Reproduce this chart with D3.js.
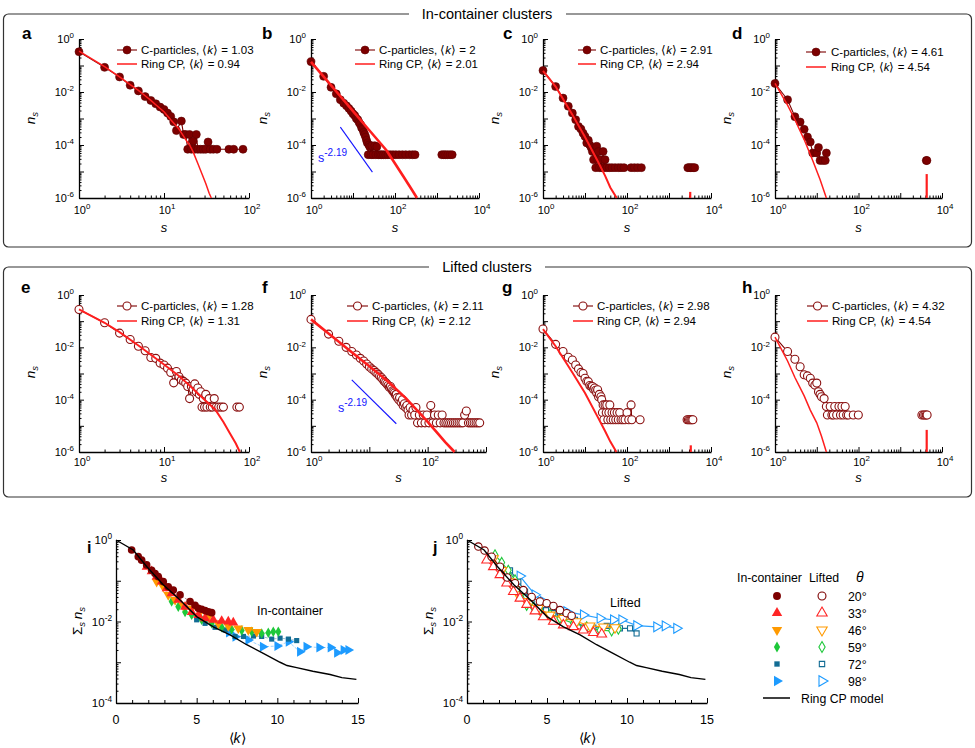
<!DOCTYPE html>
<html>
<head>
<meta charset="utf-8">
<script src="https://cdn.jsdelivr.net/npm/d3@7"></script>
<style>
  body { margin: 0; background: #fff; }
  svg { font-family: "Liberation Sans", Arial, Helvetica, sans-serif; }
</style>
</head>
<body>
<svg id="fig" width="975" height="748"></svg>
<script>
// ---------- cluster size distributions n_s, pairs [s, n_s] ----------
// in-container
const cA = [[1,0.33],[2,0.085],[3,0.037],[4,0.018],[5,0.011],[6,0.0067],[7,0.0048],[8,0.0036],[9,0.0027],[10,0.0022],[11,0.0016],[12,0.0012],[13,0.00075],[14,0.00035],[16,0.0008],[17,0.00025],[18,0.00025],[19,6.9e-5],[20,0.00025],[21,6.9e-5],[22,0.00014],[23,6.9e-5],[24,0.00025],[25,6.9e-5],[27,6.9e-5],[29,6.9e-5],[31,6.9e-5],[33,0.00013],[35,6.9e-5],[38,6.9e-5],[42,6.9e-5],[58,6.9e-5],[66,6.9e-5],[85,6.9e-5]];
const ringA = [[1,0.35],[2,0.09],[3,0.037],[4,0.019],[5,0.0115],[6,0.0072],[7,0.0048],[8,0.0033],[10,0.0018],[12,0.0009],[15,0.0004],[18,0.00016],[20,0.0001],[22,5.5e-5],[25,2e-5],[28,8e-6],[31,3.5e-6],[34,1.5e-6],[36,1e-6]];

const cB = [[1,0.14],[2,0.039],[3,0.015],[4,0.0085],[5,0.0051],[6,0.0038],[7,0.003],[8,0.0024],[9,0.0019],[10,0.0015],[11,0.0013],[12,0.001],[13,0.0009],[14,0.0007],[15,0.0006],[16,0.00045],[17,0.0004],[18,0.0003],[19,0.00025],[20,0.0002],[21,0.00015],[22,0.00012],[23,4.3e-5],[24,0.0001],[25,8.6e-5],[27,4.3e-5],[28,9.4e-5],[30,4.3e-5],[33,9.4e-5],[35,4.3e-5],[37,8.6e-5],[40,4.3e-5],[44,4.3e-5],[48,4.3e-5],[53,4.3e-5],[60,4.3e-5],[68,4.3e-5],[78,4.3e-5],[90,4.3e-5],[105,4.3e-5],[125,4.3e-5],[150,4.3e-5],[180,4.3e-5],[220,4.3e-5],[260,4.3e-5],[300,4.3e-5]];
const cBGiant = [[1300,4.3e-5],[1450,4.3e-5],[1600,4.3e-5],[1800,4.3e-5],[2050,4.3e-5],[2300,4.3e-5]];
const ringB = [[1,0.138],[2,0.038],[5,0.0069],[10,0.0019],[20,0.00052],[40,0.000145],[63,6.2e-5],[100,2e-5],[160,6.3e-6],[250,2.1e-6],[334,1e-6]];
const guideB = [[5,4.7e-4],[29,9.5e-6]];

const cC = [[1,0.065],[2,0.016],[3,0.0059],[4,0.0029],[5,0.0016],[6,0.0009],[7,0.0005],[8,0.0004],[9,0.00028],[10,0.00021],[11,0.00012],[12,0.00015],[13,0.0001],[14,8e-5],[15,5.7e-5],[16,2.8e-5],[17,5.7e-5],[18,1.4e-5],[19,9e-5],[20,2.8e-5],[21,5.7e-5],[22,1.4e-5],[23,2.8e-5],[25,1.4e-5],[27,5.7e-5],[28,1.4e-5],[30,2.8e-5],[33,1.4e-5],[38,1.4e-5],[44,1.4e-5],[52,1.4e-5],[62,1.4e-5],[72,1.4e-5],[85,1.4e-5]];
const cCFar = [[125,1.4e-5],[150,1.4e-5],[180,1.4e-5],[220,1.4e-5]];
const cCGiant = [[2800,1.4e-5],[3000,1.4e-5],[3250,1.4e-5],[3500,1.4e-5],[3800,1.4e-5],[4100,1.4e-5]];
const ringC = [[1,0.063],[2,0.016],[5,0.0014],[10,0.0002],[20,2.5e-5],[30,7e-6],[40,2.5e-6],[57,1e-6]];
const peakC = [3200, 1.7e-6];

const cD = [[1,0.021],[2,0.0051],[3,0.00117],[4,0.00074],[5,0.00039],[6,0.0002],[7,0.00013],[8,5e-5],[10,5e-5],[11,8e-5],[12,2.6e-5],[14,2.6e-5],[16,2.6e-5],[17,5e-5]];
const cDGiant = [[4200,2.6e-5],[4350,2.6e-5]];
const ringD = [[1,0.021],[2,0.0032],[3,0.0009],[5,0.00016],[8,2.6e-5],[12,5e-6],[17,1e-6]];
const peakD = [4300, 8e-6];

// lifted
const cE = [[1,0.28],[2,0.087],[3,0.035],[4,0.02],[5,0.011],[6,0.0074],[7,0.0041],[8,0.0038],[9,0.0025],[10,0.0021],[11,0.0016],[12,0.0011],[13,0.00044],[14,0.0012],[15,0.00076],[16,0.00056],[17,0.0005],[18,0.00043],[19,0.00032],[20,0.00011],[21,0.00032],[22,0.00025],[23,0.0004],[24,0.0002],[25,0.00028],[26,0.00016],[27,0.0002],[28,5.2e-5],[29,0.00011],[30,5.2e-5],[31,0.00016],[32,5.2e-5],[34,0.00011],[35,5.2e-5],[37,5.2e-5],[39,0.00011],[41,5.2e-5],[44,5.2e-5],[47,5.2e-5],[50,5.2e-5]];
const cEFar = [[72,5.2e-5],[77,5.2e-5]];
const ringE = [[1,0.28],[2,0.087],[3,0.038],[5,0.0117],[10,0.0022],[15,0.0008],[20,0.00035],[30,0.0001],[40,4.2e-5],[50,1.4e-5],[60,5e-6],[70,2.1e-6],[78,1e-6]];

const cF = [[1,0.117],[2,0.032],[3,0.017],[4,0.01],[5,0.0069],[6,0.0051],[7,0.0038],[8,0.003],[9,0.0023],[10,0.0018],[11,0.0015],[12,0.0013],[13,0.0011],[14,0.00095],[15,0.0008],[16,0.0007],[17,0.0006],[18,0.0005],[19,0.00045],[20,0.0004],[21,0.00035],[22,0.0003],[23,0.00032],[24,0.00026],[25,0.00022],[26,0.0002],[27,0.00018],[28,0.00015],[29,0.00016],[30,0.00012],[32,0.0001],[33,0.00012],[35,8e-5],[37,0.0001],[38,6e-5],[40,7e-5],[42,5e-5],[44,6e-5],[46,4e-5],[48,2.6e-5],[50,5e-5],[53,2.6e-5],[56,4e-5],[60,2.6e-5],[63,5e-5],[67,1.3e-5],[72,2.6e-5],[78,1.3e-5],[84,2.6e-5],[90,1.3e-5],[97,2.6e-5],[105,1.3e-5],[113,6e-5],[122,1.3e-5],[131,2.6e-5],[141,1.3e-5],[152,2.6e-5],[164,1.3e-5],[177,2.6e-5],[190,1.3e-5],[205,1.3e-5],[221,1.3e-5],[238,1.3e-5],[256,1.3e-5],[276,1.3e-5],[297,1.3e-5],[320,1.3e-5],[345,1.3e-5],[372,1.3e-5],[400,1.3e-5],[430,2.6e-5],[460,3.7e-5],[500,1.3e-5],[540,1.3e-5],[580,1.3e-5],[625,1.3e-5],[675,1.3e-5],[725,1.3e-5],[780,1.3e-5]];
const ringF = [[1,0.117],[2,0.034],[5,0.0065],[10,0.0019],[20,0.00054],[43,0.00011],[95,1.6e-5],[150,5e-6],[200,2.4e-6],[290,1e-6]];
const guideF = [[5,5.7e-4],[29,1.2e-5]];

const cG = [[1,0.05],[2,0.013],[3,0.0069],[4,0.0042],[5,0.0033],[6,0.0021],[7,0.0015],[8,0.0011],[9,0.001],[10,0.00066],[11,0.0005],[12,0.00049],[13,0.00035],[14,0.00032],[15,0.00032],[16,0.00025],[17,0.00028],[18,0.00023],[19,0.00018],[20,0.00024],[21,0.00013],[22,0.00016],[24,0.00013],[25,0.0001],[26,3.2e-5],[27,6.3e-5],[28,1.7e-5],[30,6.3e-5],[32,3.2e-5],[33,6.3e-5],[35,1.7e-5],[37,3.2e-5],[39,6.3e-5],[41,1.7e-5],[44,3.2e-5],[47,1.7e-5],[50,3.2e-5],[54,1.7e-5],[58,3.2e-5],[62,1.7e-5],[67,3.2e-5],[72,1.7e-5],[80,1.7e-5],[90,1.7e-5],[100,3.2e-5],[110,1.7e-5],[125,6.3e-5],[130,1.7e-5]];
const cGFar = [[205,1.7e-5]];
const cGGiant = [[2700,1.7e-5],[2900,1.7e-5],[3100,1.7e-5],[3300,1.7e-5],[3500,1.7e-5],[3700,1.7e-5]];
const ringG = [[1,0.05],[2,0.011],[5,0.0011],[10,0.00018],[20,2.2e-5],[30,6.3e-6],[40,2.5e-6],[56,1e-6]];
const peakG = [3300, 1.8e-6];

const cH = [[1,0.0245],[2,0.0069],[3,0.0035],[4,0.0018],[5,0.00089],[6,0.00081],[7,0.00066],[8,0.00043],[9,0.00036],[10,0.00043],[11,0.0002],[12,0.00016],[13,0.00013],[15,0.00011],[17,5.5e-5],[18,2.6e-5],[21,5.5e-5],[23,2.6e-5],[25,2.6e-5],[27,5.5e-5],[30,2.6e-5],[34,5.5e-5],[37,2.6e-5],[40,5.5e-5],[43,2.6e-5],[48,5.5e-5],[52,2.6e-5],[57,2.6e-5],[75,2.6e-5],[99,2.6e-5]];
const cHGiant = [[3300,2.6e-5],[3600,2.6e-5],[3900,2.6e-5],[4200,2.6e-5],[4400,2.6e-5]];
const ringH = [[1,0.0245],[2,0.003],[3,0.0007],[5,0.00014],[7,4e-5],[10,1.3e-5],[13,4e-6],[17,1e-6]];
const peakH = [4300, 7e-6];

// ---------- total cluster density vs <k>, pairs [k, sum_s n_s] ----------
const in20 = [[0.97,0.57],[1.38,0.39],[1.59,0.32],[1.9,0.245],[2.21,0.18],[2.42,0.15],[2.62,0.126],[2.93,0.095],[3.24,0.071],[3.55,0.059],[3.97,0.045],[4.59,0.031],[4.9,0.025],[5.1,0.021],[5.31,0.02],[5.52,0.0185],[5.73,0.0174],[5.93,0.0165]];
const in33 = [[1.9,0.22],[2.21,0.17],[2.52,0.126],[2.83,0.095],[3.14,0.065],[3.45,0.049],[3.86,0.034],[4.28,0.023],[4.69,0.017],[5.1,0.0144],[5.52,0.012],[6.03,0.011],[6.55,0.0103],[6.96,0.01],[7.27,0.0094]];
const in46 = [[2.52,0.095],[2.93,0.071],[3.24,0.045],[3.66,0.034],[4.17,0.025],[4.69,0.021],[5.21,0.0174],[5.73,0.013],[6.34,0.009],[6.96,0.0078],[7.58,0.0068],[8.2,0.0062],[8.72,0.0056]];
const in59 = [[3.45,0.031],[3.86,0.023],[4.28,0.017],[4.69,0.0145],[5.31,0.011],[5.93,0.009],[6.55,0.0072],[7.17,0.0064],[7.79,0.006],[8.41,0.0056],[9.03,0.0051],[9.44,0.0053],[9.75,0.0056],[10.06,0.0056]];
const in72 = [[5.0,0.011],[5.52,0.009],[6.14,0.0072],[6.76,0.0062],[7.38,0.0043],[7.9,0.0043],[8.52,0.0044],[9.03,0.0043],[9.65,0.0037],[10.17,0.0039],[10.69,0.0037],[11.2,0.0034]];
const in98 = [[7.0,0.0054],[7.4,0.0042],[8.2,0.0035],[9.1,0.0024],[10.0,0.0025],[10.7,0.0032],[11.4,0.0018],[11.8,0.0024],[12.6,0.0023],[13.3,0.0023],[13.7,0.0017],[14.1,0.002],[14.4,0.002]];

const lift20 = [[0.71,0.69],[1.1,0.55],[1.54,0.39],[2.06,0.22],[2.52,0.12],[3.0,0.087],[3.52,0.059],[4.04,0.04],[4.56,0.031],[4.98,0.028],[5.4,0.024],[5.81,0.019],[6.23,0.016],[6.54,0.0138]];
const lift33 = [[1.23,0.32],[1.65,0.22],[2.06,0.14],[2.48,0.087],[2.9,0.054],[3.31,0.037],[3.73,0.026],[4.25,0.018],[4.77,0.013],[5.4,0.01],[6.02,0.0082],[6.65,0.0074],[7.27,0.0061],[7.9,0.0053],[8.42,0.0049]];
const lift46 = [[1.65,0.35],[2.17,0.18],[2.69,0.095],[3.21,0.045],[3.73,0.031],[4.46,0.021],[5.19,0.0145],[6.02,0.012],[6.85,0.01],[7.69,0.0078],[8.52,0.0074],[9.25,0.0071]];
const lift59 = [[1.75,0.43],[2.17,0.28],[2.58,0.18],[3.0,0.105],[3.42,0.054],[3.73,0.025],[4.15,0.022],[4.56,0.019],[5.19,0.015],[5.81,0.012],[6.65,0.009],[7.48,0.0074],[8.31,0.0061],[9.04,0.0059],[9.46,0.0065]];
const lift72 = [[2.69,0.18],[3.21,0.095],[3.63,0.054],[4.04,0.029],[4.56,0.024],[4.94,0.019],[5.4,0.016],[5.81,0.0145],[6.23,0.013],[6.75,0.011],[7.27,0.0071],[7.9,0.0071],[8.73,0.0078],[9.56,0.0068],[10.19,0.0068],[10.6,0.0051]];
const lift98 = [[3.31,0.13],[4.25,0.045],[4.77,0.031],[5.4,0.022],[6.23,0.0174],[7.27,0.0145],[8.31,0.012],[9.15,0.011],[9.67,0.011],[10.6,0.0079],[11.85,0.0074],[12.38,0.0078],[13.1,0.0068]];

const ringModel = [[0,1],[1.07,0.569],[1.9,0.224],[2.93,0.0794],[3.97,0.0339],[5.0,0.0132],[6.03,0.0074],[7.07,0.00468],[8.1,0.00269],[9.13,0.00166],[10.17,0.001],[10.6,0.00083],[11.2,0.00074],[12.2,0.0006],[13.27,0.0005],[14.0,0.00042],[14.9,0.00038]];

const thetaLabels = ['20°', '33°', '46°', '59°', '72°', '98°'];
const inSeries = [in20, in33, in46, in59, in72, in98];
const liftSeries = [lift20, lift33, lift46, lift59, lift72, lift98];

// ---------- styles ----------
const darkRed = '#7d0000';
const ringRed = '#ff1e1e';
const thetaColors = ['#7d0000', '#ff2525', '#ff9a00', '#1ec83a', '#126c94', '#1d9bff'];
const shapes = [
  {t: d3.symbolCircle, s: 38, rot: 0},
  {t: d3.symbolTriangle, s: 36, rot: 0},
  {t: d3.symbolTriangle, s: 36, rot: 180},
  {t: d3.symbolDiamond, s: 26, rot: 0},
  {t: d3.symbolSquare, s: 22, rot: 0},
  {t: d3.symbolTriangle, s: 36, rot: 90}
];

const svg = d3.select('#fig');

function pow10(sel, e, size) {
  sel.append('tspan').text('10');
  sel.append('tspan').attr('dy', -size * 0.42).attr('font-size', size * 0.72).text(e);
}
function kText(sel, before, after) {
  sel.append('tspan').text(before + '\u27E8');
  sel.append('tspan').attr('font-style', 'italic').text('k');
  sel.append('tspan').text('\u27E9' + after);
}

// ---------- boxes ----------
function box(top, bottom, title, gapL, gapR) {
  svg.append('rect').attr('x', 3.5).attr('y', top).attr('width', 968).attr('height', bottom - top)
    .attr('rx', 5).attr('fill', 'none').attr('stroke', '#333').attr('stroke-width', 1.2);
  svg.append('rect').attr('x', gapL).attr('y', top - 3).attr('width', gapR - gapL).attr('height', 6).attr('fill', '#fff');
  svg.append('text').attr('x', 487).attr('y', top + 5).attr('text-anchor', 'middle')
    .attr('font-size', 14.5).text(title);
}
box(14, 247, 'In-container clusters', 409, 566);
box(267, 497, 'Lifted clusters', 429, 545);

// ---------- n_s panels ----------
const rows = [
  {top: 39, bottom: 198, tickDy: 16, sDy: 34, nsY: 118, legY: [50, 64], letterY: 39},
  {top: 295, bottom: 452, tickDy: 14, sDy: 30, nsY: 372, legY: [306, 321], letterY: 293}
];

const panels = [
  {id: 'a', row: 0, left: 79, right: 249, xMax: 1e2, xLab: [0, 1, 2], c: cA, ring: ringA, kC: '1.03', kR: '0.94', filled: true, leg: [117, 137, 141], letterX: 22, ringW: 1.5},
  {id: 'b', row: 0, left: 311, right: 479, xMax: 1e4, xLab: [0, 2, 4], c: cB, giant: cBGiant, ring: ringB, guide: guideB, guideTxt: [318, 162], kC: '2', kR: '2.01', filled: true, leg: [355, 375, 379], letterX: 262, ringW: 2.6},
  {id: 'c', row: 0, left: 543, right: 711, xMax: 1e4, xLab: [0, 2, 4], c: cC, far: cCFar, giant: cCGiant, ring: ringC, peak: peakC, kC: '2.91', kR: '2.94', filled: true, leg: [578, 596, 600], letterX: 503, ringW: 2},
  {id: 'd', row: 0, left: 775, right: 942, xMax: 1e4, xLab: [0, 2, 4], c: cD, giant: cDGiant, ring: ringD, peak: peakD, kC: '4.61', kR: '4.54', filled: true, leg: [806, 826, 831], legY: [52, 67], letterX: 732, ringW: 1.5},
  {id: 'e', row: 1, left: 79, right: 249, xMax: 1e2, xLab: [0, 1, 2], c: cE, far: cEFar, ring: ringE, kC: '1.28', kR: '1.31', filled: false, leg: [117, 137, 141], letterX: 21, ringW: 2},
  {id: 'f', row: 1, left: 311, right: 486, xMax: 1e3, xLab: [0, 2], c: cF, ring: ringF, guide: guideF, guideTxt: [338, 412], kC: '2.11', kR: '2.12', filled: false, leg: [347, 368, 372], letterX: 262, ringW: 2.6},
  {id: 'g', row: 1, left: 543, right: 711, xMax: 1e4, xLab: [0, 2, 4], c: cG, far: cGFar, giant: cGGiant, ring: ringG, peak: peakG, kC: '2.98', kR: '2.94', filled: false, leg: [573, 593, 597], letterX: 502, ringW: 2},
  {id: 'h', row: 1, left: 775, right: 942, xMax: 1e4, xLab: [0, 2, 4], c: cH, giant: cHGiant, ring: ringH, peak: peakH, kC: '4.32', kR: '4.54', filled: false, leg: [807, 828, 832], letterX: 742, ringW: 1.5}
];

const isMajor = v => Math.abs(Math.log10(v) - Math.round(Math.log10(v))) < 1e-6;

function logPanel(p) {
  const r = rows[p.row];
  const x = d3.scaleLog().domain([1, p.xMax]).range([p.left, p.right]);
  const y = d3.scaleLog().domain([1e-6, 1]).range([r.bottom, r.top]);
  const g = svg.append('g');

  const ya = g.append('g').attr('transform', `translate(${p.left},0)`)
    .call(d3.axisLeft(y).tickValues(y.ticks()).tickFormat('').tickSizeOuter(0));
  ya.selectAll('.tick line').attr('x2', d => isMajor(d) ? 5 : 2.5);
  const xa = g.append('g').attr('transform', `translate(0,${r.bottom})`)
    .call(d3.axisBottom(x).tickValues(x.ticks()).tickFormat('').tickSizeOuter(0));
  xa.selectAll('.tick line').attr('y2', d => isMajor(d) ? -5 : -2.5);
  g.selectAll('.domain').attr('stroke-width', 1.3);

  [0, -2, -4, -6].forEach(e => {
    const t = g.append('text').attr('x', p.left - 5).attr('y', y(Math.pow(10, e)) + 4)
      .attr('text-anchor', 'end').attr('font-size', 11);
    pow10(t, e, 11);
  });
  p.xLab.forEach(e => {
    const t = g.append('text').attr('x', x(Math.pow(10, e)) + 3).attr('y', r.bottom + r.tickDy)
      .attr('text-anchor', 'middle').attr('font-size', 11);
    pow10(t, e, 11);
  });
  g.append('text').attr('x', (p.left + p.right) / 2).attr('y', r.bottom + r.sDy)
    .attr('text-anchor', 'middle').attr('font-size', 13).attr('font-style', 'italic').text('s');
  const ns = g.append('text').attr('transform', `translate(${p.left - 44},${r.nsY}) rotate(-90)`)
    .attr('text-anchor', 'middle').attr('font-size', 13.5).attr('font-style', 'italic');
  ns.append('tspan').text('n');
  ns.append('tspan').attr('dy', 3).attr('font-size', 9.5).text('s');
  g.append('text').attr('x', p.letterX).attr('y', r.letterY).attr('font-size', 17)
    .attr('font-weight', 'bold').text(p.id);

  // power-law guide
  if (p.guide) {
    g.append('line').attr('x1', x(p.guide[0][0])).attr('y1', y(p.guide[0][1]))
      .attr('x2', x(p.guide[1][0])).attr('y2', y(p.guide[1][1]))
      .attr('stroke', '#1414ff').attr('stroke-width', 1.1);
    const gt = g.append('text').attr('x', p.guideTxt[0]).attr('y', p.guideTxt[1])
      .attr('fill', '#1414ff').attr('font-size', 12.5);
    gt.append('tspan').text('s');
    gt.append('tspan').attr('dy', -6).attr('font-size', 10).text('-2.19');
  }

  const line = d3.line().x(d => x(d[0])).y(d => y(d[1]));
  g.append('path').datum(p.c).attr('d', line).attr('fill', 'none')
    .attr('stroke', darkRed).attr('stroke-width', 1.1);
  if (p.giant) {
    g.append('path').datum(p.giant).attr('d', line).attr('fill', 'none')
      .attr('stroke', darkRed).attr('stroke-width', 1.1);
  }
  const pts = p.c.concat(p.far || [], p.giant || []);
  g.selectAll('circle.pt').data(pts).join('circle').attr('class', 'pt')
    .attr('cx', d => x(d[0])).attr('cy', d => y(d[1])).attr('r', 4)
    .attr('fill', p.filled ? darkRed : '#fff')
    .attr('stroke', p.filled ? '#5e0000' : '#8a1010')
    .attr('stroke-width', p.filled ? 0.6 : 1.1);

  g.append('path').datum(p.ring).attr('d', line).attr('fill', 'none')
    .attr('stroke', ringRed).attr('stroke-width', p.ringW);
  if (p.peak) {
    g.append('line').attr('x1', x(p.peak[0])).attr('x2', x(p.peak[0]))
      .attr('y1', y(1e-6)).attr('y2', y(p.peak[1]))
      .attr('stroke', ringRed).attr('stroke-width', 2.2);
  }

  // legend
  const ly = p.legY || r.legY;
  g.append('line').attr('x1', p.leg[0]).attr('x2', p.leg[1]).attr('y1', ly[0]).attr('y2', ly[0])
    .attr('stroke', darkRed).attr('stroke-width', 1.1);
  g.append('circle').attr('cx', (p.leg[0] + p.leg[1]) / 2).attr('cy', ly[0]).attr('r', 4)
    .attr('fill', p.filled ? darkRed : '#fff').attr('stroke', p.filled ? '#5e0000' : '#8a1010')
    .attr('stroke-width', p.filled ? 0.6 : 1.1);
  kText(g.append('text').attr('x', p.leg[2]).attr('y', ly[0] + 4).attr('font-size', 11.5),
    'C-particles,  ', ' = ' + p.kC);
  g.append('line').attr('x1', p.leg[0]).attr('x2', p.leg[1]).attr('y1', ly[1]).attr('y2', ly[1])
    .attr('stroke', ringRed).attr('stroke-width', 1.5);
  kText(g.append('text').attr('x', p.leg[2]).attr('y', ly[1] + 4).attr('font-size', 11.5),
    'Ring CP,  ', ' = ' + p.kR);
}
panels.forEach(logPanel);

// ---------- sum n_s vs <k> panels ----------
function symbolPath(i, scale) {
  return d3.symbol().type(shapes[i].t).size(shapes[i].s * (scale || 1))();
}

function kPanel(p) {
  const x = d3.scaleLinear().domain([0, 15]).range([p.left, p.right]);
  const y = d3.scaleLog().domain([1e-4, 1]).range([703, 540]);
  const g = svg.append('g');

  const ya = g.append('g').attr('transform', `translate(${p.left},0)`)
    .call(d3.axisLeft(y).tickValues(y.ticks()).tickFormat('').tickSizeOuter(0));
  ya.selectAll('.tick line').attr('x2', d => isMajor(d) ? 5 : 2.5);
  const xa = g.append('g').attr('transform', 'translate(0,703)')
    .call(d3.axisBottom(x).tickValues(d3.range(0, 16)).tickFormat('').tickSizeOuter(0));
  xa.selectAll('.tick line').attr('y2', d => d % 5 === 0 ? -5 : -3);
  g.selectAll('.domain').attr('stroke-width', 1.3);

  [0, -2, -4].forEach(e => {
    const t = g.append('text').attr('x', p.left - 4).attr('y', y(Math.pow(10, e)) + 4)
      .attr('text-anchor', 'end').attr('font-size', 11.5);
    pow10(t, e, 11.5);
  });
  [0, 5, 10, 15].forEach(v => {
    g.append('text').attr('x', x(v)).attr('y', 724).attr('text-anchor', 'middle')
      .attr('font-size', 12.5).text(v);
  });
  kText(g.append('text').attr('x', (p.left + p.right) / 2).attr('y', 743)
    .attr('text-anchor', 'middle').attr('font-size', 14), '', '');
  const yl = g.append('text').attr('transform', `translate(${p.left - 34},621) rotate(-90)`)
    .attr('text-anchor', 'middle').attr('font-size', 13.5);
  yl.append('tspan').text('\u03A3');
  yl.append('tspan').attr('dy', 3).attr('font-size', 9.5).attr('font-style', 'italic').text('s');
  yl.append('tspan').attr('dy', -3).attr('font-style', 'italic').text('\u2009n');
  yl.append('tspan').attr('dy', 3).attr('font-size', 9.5).attr('font-style', 'italic').text('s');
  g.append('text').attr('x', p.letterX).attr('y', 553).attr('font-size', 16)
    .attr('font-weight', 'bold').text(p.id);
  g.append('text').attr('x', p.note[0]).attr('y', p.note[1]).attr('font-size', 12.5).text(p.noteText);

  const line = d3.line().x(d => x(d[0])).y(d => y(d[1]));
  for (let i = p.series.length - 1; i >= 0; i--) {
    const s = p.series[i];
    g.append('path').datum(s).attr('d', line).attr('fill', 'none')
      .attr('stroke', thetaColors[i]).attr('stroke-width', p.filled ? 1 : 1.2)
      .attr('stroke-opacity', p.filled ? 0.45 : 0.95)
      .attr('stroke-dasharray', p.filled ? '3,1.5' : null);
    g.selectAll(null).data(s).join('path')
      .attr('d', symbolPath(i, p.filled ? 1.2 : 1.15))
      .attr('transform', d => `translate(${x(d[0])},${y(d[1])}) rotate(${shapes[i].rot})`)
      .attr('fill', p.filled ? thetaColors[i] : '#fff')
      .attr('stroke', thetaColors[i]).attr('stroke-width', p.filled ? 0 : 1.1);
  }
  g.append('path').datum(ringModel).attr('d', line).attr('fill', 'none')
    .attr('stroke', '#000').attr('stroke-width', 1.4);
}

kPanel({id: 'i', left: 116, right: 358, letterX: 87, series: inSeries, filled: true,
  note: [257, 615], noteText: 'In-container'});
kPanel({id: 'j', left: 467, right: 707, letterX: 433, series: liftSeries, filled: false,
  note: [610, 607], noteText: 'Lifted'});

// ---------- shared legend ----------
const lg = svg.append('g').attr('font-size', 12.3);
lg.append('text').attr('x', 737).attr('y', 582).text('In-container');
lg.append('text').attr('x', 809).attr('y', 582).text('Lifted');
lg.append('text').attr('x', 856).attr('y', 582).attr('font-style', 'italic').attr('font-size', 14).text('\u03B8');
const legRows = [596, 613, 630, 647, 664, 681];
thetaLabels.forEach((lab, i) => {
  const yy = legRows[i];
  lg.append('path').attr('d', symbolPath(i, 1.3))
    .attr('transform', `translate(777,${yy}) rotate(${shapes[i].rot})`)
    .attr('fill', thetaColors[i]);
  lg.append('path').attr('d', symbolPath(i, 1.3))
    .attr('transform', `translate(822,${yy}) rotate(${shapes[i].rot})`)
    .attr('fill', '#fff').attr('stroke', thetaColors[i]).attr('stroke-width', 1.1);
  lg.append('text').attr('x', 848).attr('y', yy + 4.5).text(lab);
});
lg.append('line').attr('x1', 763).attr('x2', 790).attr('y1', 698).attr('y2', 698)
  .attr('stroke', '#000').attr('stroke-width', 1.5);
lg.append('text').attr('x', 801).attr('y', 702.5).text('Ring CP model');
</script>
</body>
</html>
